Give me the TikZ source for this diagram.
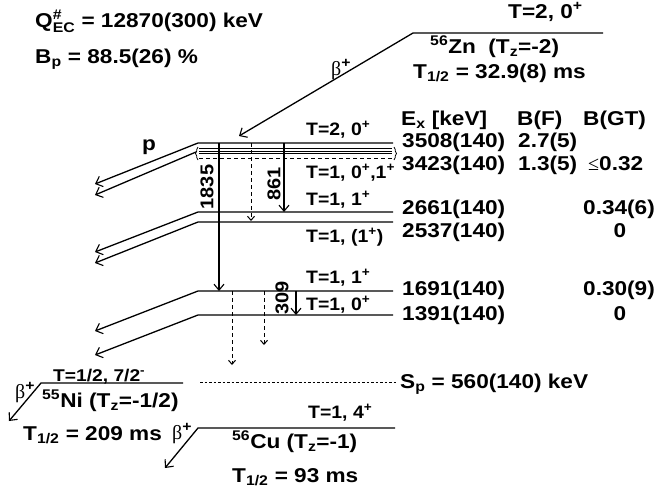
\documentclass[tikz,border=0pt]{standalone}
\usepackage{fontspec}
\usepackage{amsmath}
\setmainfont{Liberation Sans}[FakeStretch=1.13]
\newfontfamily\labfont{Liberation Sans}[FakeStretch=1.08]
\newfontfamily\grk{Liberation Serif}
\usetikzlibrary{arrows.meta,decorations.pathreplacing}
\newcommand\hsup[1]{$^{\text{#1}}$}
\newcommand\hsub[1]{$_{\text{#1}}$}
\tikzset{
  big/.style={font=\fontsize{20}{22}\selectfont\bfseries, inner sep=0pt, anchor=base west},
  lab/.style={font=\labfont\fontsize{18}{20}\selectfont\bfseries, inner sep=0pt, anchor=base west},
  rlab/.style={font=\labfont\fontsize{18.5}{20}\selectfont\bfseries, inner sep=0pt, anchor=center, rotate=90},
  lvl/.style={line width=1.3pt},
  arr/.style={-{Straight Barb[length=6pt,width=11pt,line width=1.1pt]}},
  tr/.style={line width=1.1pt,-{Straight Barb[length=6pt,width=10pt]}},
  dtr/.style={line width=1pt,dash pattern=on 4pt off 3pt,-{Straight Barb[length=4pt,width=7pt]}},
}
\begin{document}
\begin{tikzpicture}[x=1pt,y=-1pt]
\useasboundingbox (0,0) rectangle (655,498);
% ---- coordinates of levels
\coordinate (zR) at (603,33); \coordinate (zL) at (413,33); \coordinate (zA) at (239,136);
\coordinate (aR) at (393,143); \coordinate (aL) at (198,143); \coordinate (aA) at (95,184);
\coordinate (bL) at (196,152); \coordinate (bA) at (95,195);
\coordinate (cR) at (393,212); \coordinate (cL) at (198,212); \coordinate (cA) at (95,252);
\coordinate (dR) at (393,222); \coordinate (dL) at (198,222); \coordinate (dA) at (95,263);
\coordinate (eR) at (393,291); \coordinate (eL) at (198,291); \coordinate (eA) at (95,331);
\coordinate (fR) at (393,315); \coordinate (fL) at (198,315); \coordinate (fA) at (95,355);
\coordinate (nR) at (183,383); \coordinate (nL) at (41,383); \coordinate (nA) at (9,421);
\coordinate (uR) at (395,428); \coordinate (uL) at (198,428); \coordinate (uA) at (165,468);
\coordinate (sL) at (200,382); \coordinate (sR) at (396,382);
% ---- levels
\draw[lvl,arr] (zR) -- (zL) -- (zA);
\draw[lvl,arr] (aR) -- (aL) -- (aA);
\draw[lvl,arr] (bL) -- (bA);
\foreach \yy/\nm in {148.5/t1,151/t2,153.5/t3}{
  \coordinate (\nm L) at (199,\yy); \coordinate (\nm R) at (392,\yy);
  \draw[line width=0.7pt] (\nm L) -- (\nm R);}
\coordinate (gL) at (199,158); \coordinate (gR) at (392,158);
\draw[line width=1pt,dash pattern=on 4pt off 3pt] (gL) -- (gR);
\coordinate (brLb) at (198,160); \coordinate (brLt) at (198,147);
\coordinate (brRt) at (394,147); \coordinate (brRb) at (394,160);
\draw[line width=0.8pt,decorate,decoration={brace,amplitude=2.5pt}] (brLb) -- (brLt);
\draw[line width=0.8pt,decorate,decoration={brace,amplitude=2.5pt}] (brRt) -- (brRb);
\draw[lvl,arr] (cR) -- (cL) -- (cA);
\draw[lvl,arr] (dR) -- (dL) -- (dA);
\draw[lvl,arr] (eR) -- (eL) -- (eA);
\draw[lvl,arr] (fR) -- (fL) -- (fA);
\draw[lvl,arr] (nR) -- (nL) -- (nA);
\draw[lvl,arr] (uR) -- (uL) -- (uA);
\draw[line width=1pt,dash pattern=on 2.5pt off 2pt] (sL) -- (sR);
% ---- transitions
\coordinate (t1835a) at (219,143); \coordinate (t1835b) at (219,291);
\coordinate (t861a) at (284,143); \coordinate (t861b) at (284,212);
\coordinate (tda) at (251,143); \coordinate (tdb) at (251,221);
\coordinate (t309a) at (296,291); \coordinate (t309b) at (296,315);
\coordinate (tea) at (232,291); \coordinate (teb) at (232,365);
\coordinate (tfa) at (264,291); \coordinate (tfb) at (264,345);
\draw[tr] (t1835a) -- (t1835b);
\draw[tr] (t861a) -- (t861b);
\draw[tr] (t309a) -- (t309b);
\draw[dtr] (tda) -- (tdb);
\draw[dtr] (tea) -- (teb);
\draw[dtr] (tfa) -- (tfb);
\node[rlab] (l1835) at (207,187) {1835};
\node[rlab] (l861) at (274,184) {861};
\node[rlab] (l309) at (282,298) {309};
% ---- top-left
\node[big] (q) at (35,27) {Q$^{\text{\#}}_{\text{EC}}$ = 12870(300) keV};
\node[big] (bp) at (35,63) {B\hsub{p} = 88.5(26) \%};
% ---- Zn
\node[big] (zt) at (508,18) {T=2, 0\hsup{+}};
\node[big] (zn) at (430,53) {\hsup{56}Zn\ \ (T\hsub{z}=-2)};
\node[big] (zh) at (413,78) {T\hsub{1/2} = 32.9(8) ms};
\node[big] (zb) at (331,75) {{\grk\mdseries β}\hsup{+}};
% ---- p
\node[big] (p) at (142,150) {p};
% ---- level labels
\node[lab] (la) at (306,135) {T=2, 0\hsup{+}};
\node[lab] (lb) at (306,178) {T=1, 0\hsup{+},1\hsup{+}};
\node[lab] (lc) at (306,205) {T=1, 1\hsup{+}};
\node[lab] (ld) at (306,242) {T=1, (1\hsup{+})};
\node[lab] (le) at (306,283) {T=1, 1\hsup{+}};
\node[lab] (lf) at (306,310) {T=1, 0\hsup{+}};
% ---- columns
\node[big] (hx) at (401,125) {E\hsub{x} [keV]};
\node[big] (hf) at (517,125) {B(F)};
\node[big] (hg) at (583,125) {B(GT)};
\node[big] (e1) at (402,147) {3508(140)};
\node[big] (e2) at (402,170) {3423(140)};
\node[big] (e3) at (402,214) {2661(140)};
\node[big] (e4) at (402,237) {2537(140)};
\node[big] (e5) at (402,295) {1691(140)};
\node[big] (e6) at (402,320) {1391(140)};
\node[big] (f1) at (518,147) {2.7(5)};
\node[big] (f2) at (518,170) {1.3(5)};
\node[big] (g2) at (588,170) {{\grk\mdseries ≤}0.32};
\node[big,anchor=base east] (g3) at (655,214) {0.34(6)};
\node[big,anchor=base] (g4) at (620,237) {0};
\node[big,anchor=base east] (g5) at (655,295) {0.30(9)};
\node[big,anchor=base] (g6) at (620,320) {0};
\node[big] (sp) at (400,388) {S\hsub{p} = 560(140) keV};
% ---- Ni
\node[big,font=\fontsize{17}{19}\selectfont\bfseries] (nt) at (53,381) {T=1/2, 7/2\hsup{-}};
\node[big] (nb) at (15,398) {{\grk\mdseries β}\hsup{+}};
\node[big] (nn) at (42,407) {\hsup{55}Ni (T\hsub{z}=-1/2)};
\node[big] (nh) at (23,440) {T\hsub{1/2} = 209 ms};
% ---- Cu
\node[lab] (ut) at (308,418) {T=1, 4\hsup{+}};
\node[big] (ub) at (172,439) {{\grk\mdseries β}\hsup{+}};
\node[big] (un) at (232,448) {\hsup{56}Cu (T\hsub{z}=-1)};
\node[big] (uh) at (232,482) {T\hsub{1/2} = 93 ms};
\end{tikzpicture}
\end{document}
